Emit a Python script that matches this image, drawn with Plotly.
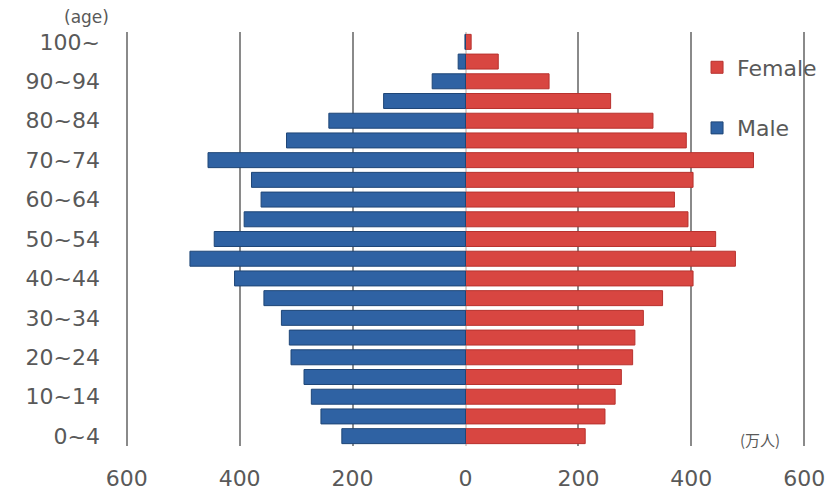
import plotly.graph_objects as go

# Age groups, youngest first (bottom of the pyramid)
age_groups = ["0~4", "5~9", "10~14", "15~19", "20~24", "25~29", "30~34",
              "35~39", "40~44", "45~49", "50~54", "55~59", "60~64", "65~69",
              "70~74", "75~79", "80~84", "85~89", "90~94", "95~99", "100~"]

# Population in 万人 for each age group
male = [219, 256, 273, 286, 309, 312, 326, 357, 409, 488, 445, 392, 362,
        379, 456, 317, 242, 145, 59, 13, 1]
female = [212, 247, 265, 276, 296, 300, 315, 349, 403, 478, 443, 394, 370,
          403, 510, 391, 332, 257, 148, 58, 10]

# Axis ticks
x_tickvals = [-600, -400, -200, 0, 200, 400, 600]
x_ticktext = ["600", "400", "200", "0", "200", "400", "600"]
y_tickvals = age_groups[::2]

FONT = "DejaVu Sans, Verdana, sans-serif"
TEXT_COLOR = "#595959"

fig = go.Figure()

fig.add_trace(go.Bar(
    y=age_groups, x=female, orientation="h", name="Female",
    legendgroup="f", legendrank=1,
    marker=dict(color="#D84641", line=dict(color="#B8322E", width=1)),
))
fig.add_trace(go.Bar(
    y=age_groups, x=[-v for v in male], orientation="h", name="Male",
    legendgroup="m", legendrank=2,
    marker=dict(color="#2F62A3", line=dict(color="#1F4677", width=1)),
))

fig.update_layout(
    width=834, height=497,
    margin=dict(l=125, r=28, t=32, b=51, autoexpand=False),
    paper_bgcolor="white", plot_bgcolor="white",
    barmode="relative", bargap=0.24,
    font=dict(family=FONT, size=22, color=TEXT_COLOR),
    showlegend=True,
    legend=dict(
        x=0.84, y=0.965, xanchor="left", yanchor="top",
        traceorder="grouped", tracegroupgap=29,
        bgcolor="rgba(0,0,0,0)",
        font=dict(family=FONT, size=22, color=TEXT_COLOR),
    ),
    xaxis=dict(
        range=[-603, 603], tickvals=x_tickvals, ticktext=x_ticktext,
        showgrid=True, gridcolor="#8a8a8a", gridwidth=2,
        zeroline=True, zerolinecolor="#d4d4d4", zerolinewidth=1.5,
        showline=False, ticks="", ticklabelstandoff=17,
        tickfont=dict(family=FONT, size=22, color=TEXT_COLOR),
    ),
    yaxis=dict(
        type="category", categoryorder="array", categoryarray=age_groups,
        range=[-0.5, len(age_groups) - 0.5],
        tickvals=y_tickvals, ticktext=y_tickvals,
        showgrid=False, zeroline=False, showline=False, ticks="",
        ticklabelstandoff=24,
        tickfont=dict(family=FONT, size=22, color=TEXT_COLOR),
    ),
    annotations=[
        dict(text="(age)", xref="paper", yref="paper", x=-0.056, y=1.036,
             xanchor="center", yanchor="middle", showarrow=False,
             font=dict(family=FONT, size=17, color=TEXT_COLOR)),
        dict(text="(万人)", xref="paper", yref="paper", x=0.933, y=0.015,
             xanchor="center", yanchor="middle", showarrow=False,
             font=dict(family="Noto Sans CJK JP, sans-serif", size=15,
                       color=TEXT_COLOR)),
    ],
)

fig.write_html("out.html")
